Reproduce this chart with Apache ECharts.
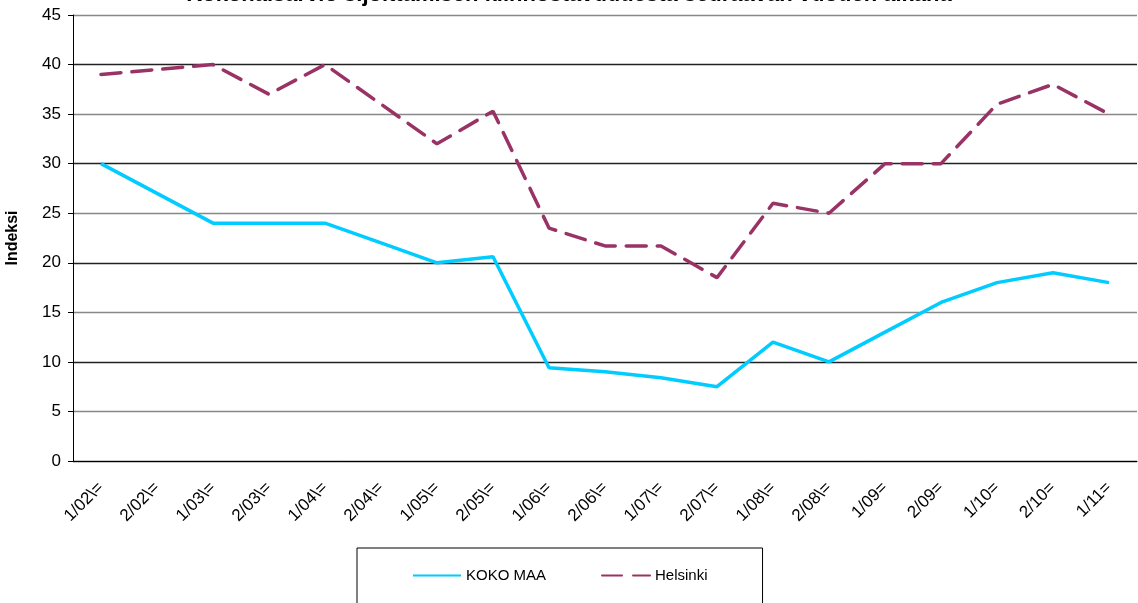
<!DOCTYPE html>
<html>
<head>
<meta charset="utf-8">
<script src="https://cdn.jsdelivr.net/npm/echarts@6/dist/echarts.min.js"></script>
<style>
  html, body { margin: 0; padding: 0; background: #fff; }
  #main { width: 1138px; height: 603px; }
</style>
</head>
<body>
<div id="main"></div>
<script>
var categories = ["1/02\\=", "2/02\\=", "1/03\\=", "2/03\\=", "1/04\\=", "2/04\\=", "1/05\\=", "2/05\\=",
  "1/06\\=", "2/06\\=", "1/07\\=", "2/07\\=", "1/08\\=", "2/08\\=", "1/09=", "2/09=", "1/10=", "2/10=", "1/11="];
var kokoMaa = [30, 27, 24, 24, 24, 22, 20, 20.6, 9.4, 9, 8.4, 7.5, 12, 10, 13, 16, 18, 19, 18];
var helsinki = [39, 39.5, 40, 37, 40, 36, 32, 35.3, 23.5, 21.7, 21.7, 18.5, 26, 25, 30, 30, 36, 38, 35];

var chartDom = document.getElementById("main");
var myChart = echarts.init(chartDom, null, { renderer: "canvas" });

var option = {
  animation: false,
  textStyle: { fontFamily: "Liberation Sans, Arial, sans-serif" },
  title: {
    text: "Kokonaisarvio sijoittamisen kiinnostavuudesta seuraavan vuoden aikana",
    left: "center",
    top: -21,
    textStyle: { fontSize: 22, fontWeight: "bold", color: "#000" }
  },
  legend: {
    left: 357,
    top: 548,
    width: 405,
    padding: [20, 55, 40, 55],
    borderColor: "#000",
    borderWidth: 1,
    itemWidth: 48,
    itemHeight: 10,
    itemGap: 55,
    itemStyle: { opacity: 0 },
    textStyle: { fontSize: 15, color: "#000" },
    data: ["KOKO MAA", "Helsinki"]
  },
  grid: { left: 73, right: 1, top: 15, bottom: 142, containLabel: false, outerBoundsMode: "none" },
  xAxis: {
    type: "category",
    data: categories,
    boundaryGap: true,
    axisLine: { lineStyle: { color: "#000", width: 1 } },
    axisTick: { show: false },
    axisLabel: { rotate: 45, fontSize: 17, color: "#000", margin: 24, interval: 0 }
  },
  yAxis: {
    type: "value",
    min: 0,
    max: 45,
    interval: 5,
    name: "Indeksi",
    nameLocation: "middle",
    nameGap: 52,
    nameTextStyle: { fontSize: 16, fontWeight: "bold", color: "#000" },
    axisLine: { show: true, lineStyle: { color: "#000" } },
    axisTick: { show: true, length: 5, lineStyle: { color: "#000" } },
    axisLabel: { fontSize: 17, color: "#000", margin: 12 },
    splitLine: { lineStyle: { color: ["#222", "#888"], width: 1.3 } }
  },
  series: [
    {
      name: "KOKO MAA",
      type: "line",
      data: kokoMaa,
      symbol: "none",
      color: "#00CCFF",
      lineStyle: { color: "#00CCFF", width: 3.5 }
    },
    {
      name: "Helsinki",
      type: "line",
      data: helsinki,
      symbol: "none",
      color: "#993366",
      lineStyle: { color: "#993366", width: 3.5, type: [20, 11], cap: "round" }
    }
  ]
};

myChart.setOption(option);
</script>
</body>
</html>
